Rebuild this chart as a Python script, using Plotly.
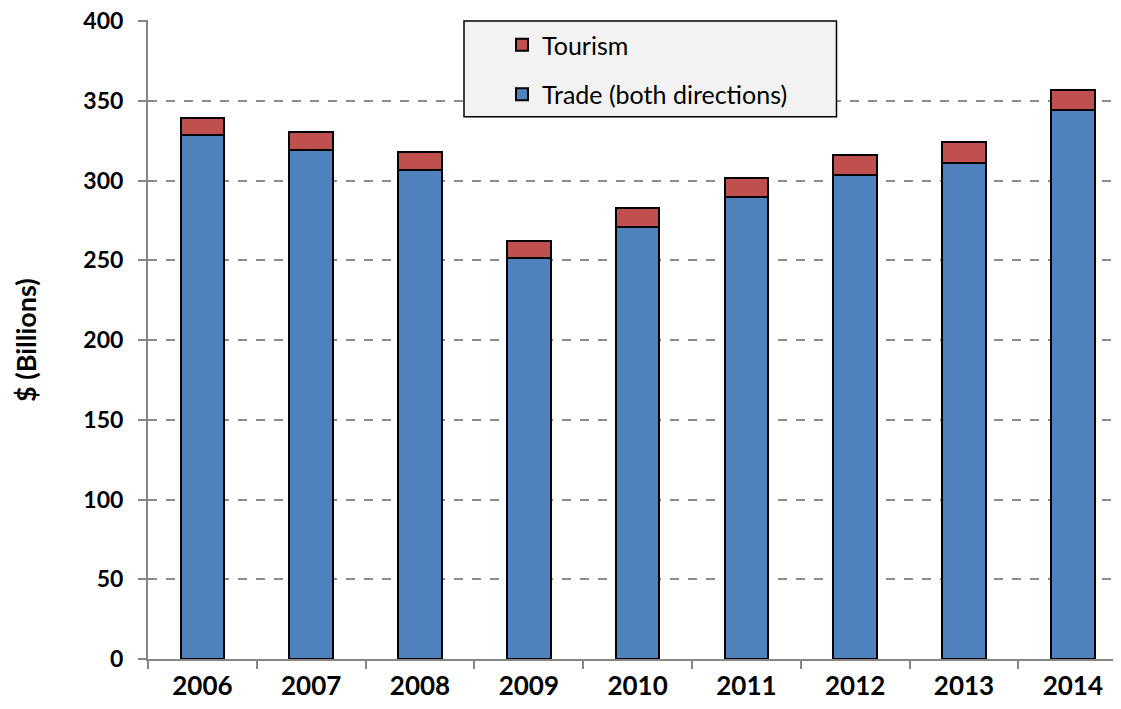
import plotly.graph_objects as go

years = ["2006", "2007", "2008", "2009", "2010", "2011", "2012", "2013", "2014"]
trade = [328.7, 319.3, 306.8, 251.4, 271.0, 289.8, 303.4, 311.2, 344.2]
tourism = [10.7, 10.9, 10.9, 10.5, 11.6, 12.0, 12.6, 13.1, 12.5]
y_ticks = [0, 50, 100, 150, 200, 250, 300, 350, 400]

# page body has an 8px margin in the browser; compensate
OFF = 8
W, H = 1121, 709
VL, VT, VB = 148, 20, 659          # target plot edges in viewport pixels
L, T = VL - OFF, VT - OFF
B = H - (VB - OFF)
R = OFF
plot_w = W - L - R
plot_h = VB - VT
px_per_unit = 638 / 400
y_top = plot_h / px_per_unit

def px_x(p):
    return (p - VL) / plot_w

def px_y(p):
    return (VB - p) / plot_h

fig = go.Figure()
fig.add_trace(go.Bar(
    x=years, y=trade, name="Trade (both directions)",
    marker=dict(color="#4f81bd", line=dict(color="black", width=2)),
    width=0.4, legendgroup="trade", legendrank=2,
))
fig.add_trace(go.Bar(
    x=years, y=tourism, name="Tourism",
    marker=dict(color="#c0504d", line=dict(color="black", width=2)),
    width=0.4, legendgroup="tourism", legendrank=1,
))

cat_w = 108.8
n_vis = plot_w / cat_w

fig.update_layout(
    width=W, height=H,
    margin=dict(l=L, r=R, t=T, b=B, autoexpand=False),
    barmode="stack",
    plot_bgcolor="white", paper_bgcolor="white",
    font=dict(family="Lato, Open Sans, sans-serif", color="black"),
    showlegend=True,
    legend=dict(
        x=px_x(502), xanchor="left", y=px_y(22), yanchor="top",
        bgcolor="rgba(0,0,0,0)", borderwidth=0,
        font=dict(size=25, family="Lato, sans-serif"),
        traceorder="grouped", tracegroupgap=14,
    ),
    xaxis=dict(
        range=[-0.5, -0.5 + n_vis],
        showline=True, linecolor="#868686", linewidth=2,
        ticks="outside", tickson="boundaries", ticklen=8, tickcolor="#868686", tickwidth=2,
        tickfont=dict(size=26, family="Lato, sans-serif", weight="bold"),
        ticklabelstandoff=3,
        showgrid=False,
    ),
    yaxis=dict(
        range=[0, y_top], tickvals=y_ticks,
        showline=True, linecolor="#868686", linewidth=2,
        ticks="outside", ticklen=8, tickcolor="#868686", tickwidth=2,
        tickfont=dict(size=23, family="Lato, sans-serif", weight="bold"),
        ticklabelstandoff=10, ticklabeloverflow="allow",
        showgrid=True, gridcolor="#8c8c8c", gridwidth=1.5, griddash="dash",
        zeroline=False,
    ),
    shapes=[dict(
        type="rect", xref="paper", yref="paper",
        x0=px_x(464), x1=px_x(836.5), y0=px_y(116.7), y1=px_y(21),
        fillcolor="#f2f2f2", line=dict(color="black", width=1.5), layer="above",
    )],
    annotations=[dict(
        text="$ (Billions)", xref="paper", yref="paper",
        x=px_x(25), y=px_y(340), xanchor="center", yanchor="middle",
        textangle=-90, showarrow=False,
        font=dict(size=27, family="Lato, sans-serif", weight="bold"),
    )],
)

fig.write_html("out.html")
